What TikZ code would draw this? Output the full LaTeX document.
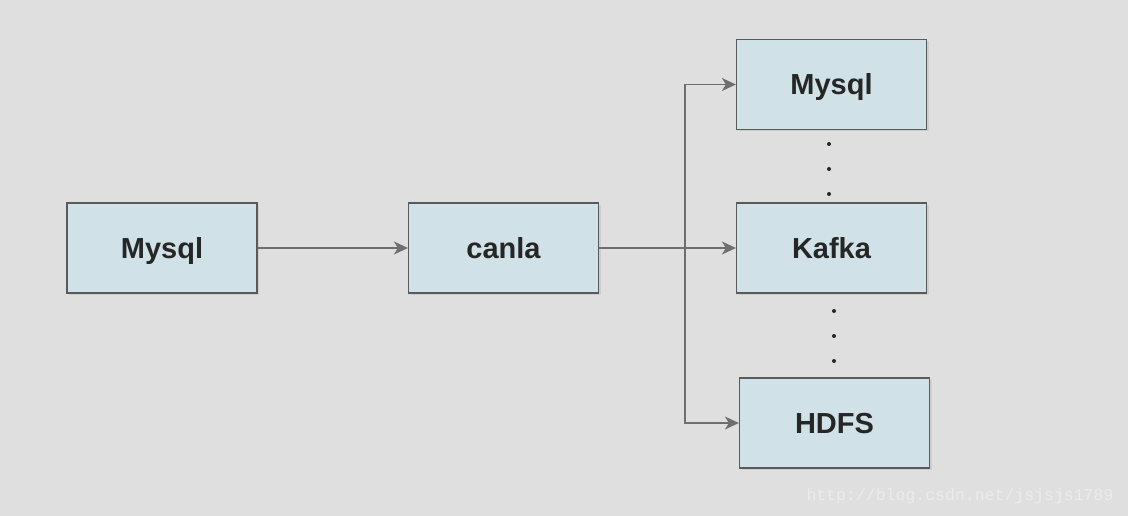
\documentclass[tikz,border=0pt]{standalone}
\usepackage{fontspec}
\setmainfont{Liberation Sans}
\newfontfamily\wmfont{Liberation Mono}
\usetikzlibrary{arrows.meta,shadows}
\definecolor{bg}{HTML}{DFDFDF}
\definecolor{boxfill}{HTML}{D0E2E8}
\definecolor{boxline}{HTML}{5A5A5A}
\definecolor{wire}{HTML}{6E6E6E}
\tikzset{
  box/.style={draw=boxline,fill=boxfill,line width=1.2pt,minimum width=190pt,minimum height=90pt,
    inner sep=0pt,font=\fontsize{29}{31}\selectfont\bfseries,text=black!85,text height=21pt,text depth=0pt,
    drop shadow={shadow xshift=2pt,shadow yshift=-2pt,fill=black,opacity=0.08}},
  wire/.style={draw=wire,line width=1.6pt,-{Stealth[length=14pt,width=13pt,inset=4pt]}}
}
\begin{document}
\begin{tikzpicture}[x=1pt,y=-1pt]
            \newcommand{\trunk}{685}
            \fill[bg] (0,0) rectangle (1128,516);
            \useasboundingbox (0,0) rectangle (1128,516);
            \node[box] (src) at (162,248) {Mysql};
            \node[box] (canal) at (503.5,248) {canla};
            \node[box] (outmysql) at (831.5,84.5) {Mysql};
            \node[box] (outkafka) at (831.5,248) {Kafka};
            \node[box] (outhdfs) at (834.5,423) {HDFS};
            \draw[wire] (src) -- (canal);
            \draw[wire] (canal) -- (outkafka);
            \draw[wire] (\trunk,0 |- outkafka) -- (\trunk,0 |- outmysql) -- (outmysql);
            \draw[wire] (\trunk,0 |- outkafka) -- (\trunk,0 |- outhdfs) -- (outhdfs);
            \foreach \y in {144,169,194} \fill[black!85] (829,\y) circle (2pt);
            \foreach \y in {311,336,361} \fill[black!85] (834,\y) circle (2pt);
            \node[anchor=east,text=white!40!bg,font=\wmfont\fontsize{16.5}{18}\selectfont] (mark) at (1117,496) {http://blog.csdn.net/jsjsjs1789};
\end{tikzpicture}
\end{document}
